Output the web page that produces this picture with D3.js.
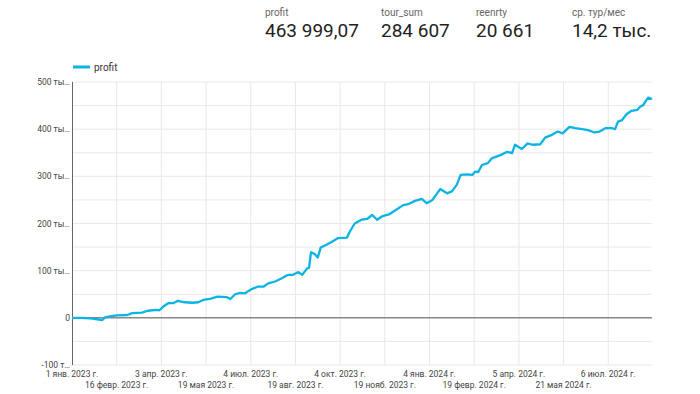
<!DOCTYPE html>
<html lang="ru">
<head>
<meta charset="UTF-8">
<title>profit</title>
<script src="https://cdn.jsdelivr.net/npm/d3@7"></script>
<style>
  body { margin: 0; background: #fff; font-family: Roboto, "Noto Sans", sans-serif; }
  svg text { font-family: Roboto, "Noto Sans", sans-serif; }
</style>
</head>
<body>
<svg id="chart" width="700" height="394"></svg>
<script>
// KPI header
var kpiLabels = ["profit", "tour_sum", "reenrty", "ср. тур/мес"];
var kpiValues = ["463 999,07", "284 607", "20 661", "14,2 тыс."];

// series: days since 1 Jan 2023 and profit (thousands)
var startDate = new Date(2023, 0, 1);
var endDay = 597;
var days = [0, 8, 19, 26, 31, 34, 39, 46, 57, 62, 72, 78, 87, 90, 94, 99, 104, 109, 116, 124,
  130, 135, 142, 150, 159, 163, 168, 173, 178, 185, 191, 197, 202, 209, 216, 222, 227, 233, 237, 242,
  244, 246, 250, 253, 256, 262, 268, 274, 283, 286, 291, 298, 304, 309, 314, 319, 327, 332, 341, 346,
  353, 360, 365, 371, 379, 386, 391, 396, 400, 407, 412, 415, 418, 422, 428, 432, 441, 448, 453, 456,
  463, 469, 474, 482, 487, 494, 500, 505, 512, 518, 525, 531, 538, 543, 549, 556, 559, 562, 566, 571,
  576, 582, 585, 588, 590, 593, 597];
var profit = [0, 0, -1, -3, -5, 1, 3, 5, 6, 10, 11, 15, 17, 16, 24, 31, 31, 36, 33, 32,
  33, 38, 40, 45, 44, 40, 50, 53, 52, 61, 66, 66, 73, 77, 84, 91, 91, 97, 91, 105,
  106, 139, 135, 128, 149, 155, 162, 169, 170, 183, 200, 208, 210, 218, 208, 215, 220, 227, 239, 241,
  248, 252, 243, 250, 273, 264, 268, 282, 303, 304, 303, 310, 309, 324, 328, 338, 345, 352, 349, 367,
  358, 370, 367, 368, 382, 388, 395, 391, 405, 402, 400, 398, 393, 395, 402, 402, 400, 416, 419, 432,
  439, 441, 448, 451, 458, 467, 464];

var yTicks = [-100, 0, 100, 200, 300, 400, 500];
var yTickLabels = ["-100 т…", "0", "100 ты…", "200 ты…", "300 ты…", "400 ты…", "500 ты…"];
var xTickStep = 46; // days between date ticks
var monthNames = ["янв.", "февр.", "мар.", "апр.", "мая", "июн.", "июл.", "авг.", "сент.", "окт.", "нояб.", "дек."];

var lineColor = "#0bb4e3";
var svg = d3.select("#chart");

// header
var kpiX = [265, 381, 476, 572];
kpiLabels.forEach(function (l, i) {
  svg.append("text").attr("x", kpiX[i]).attr("y", 16).attr("font-size", 10).attr("fill", "#666").text(l);
  svg.append("text").attr("x", kpiX[i]).attr("y", 37).attr("font-size", 19).attr("fill", "#222").text(kpiValues[i]);
});

var x = d3.scaleTime()
  .domain([startDate, d3.timeDay.offset(startDate, endDay)])
  .range([72, 652]);
var y = d3.scaleLinear().domain([-100, 500]).range([365, 82]);

var data = days.map(function (d, i) {
  return { date: d3.timeDay.offset(startDate, d), value: profit[i] };
});

// grid
var g = svg.append("g");
d3.range(-100, 501, 50).forEach(function (v) {
  g.append("line").attr("x1", 72).attr("x2", 652).attr("y1", y(v)).attr("y2", y(v))
    .attr("stroke", "#e8e8e8").attr("stroke-width", 1);
});
var xTicks = d3.range(0, endDay, xTickStep).map(function (d) { return d3.timeDay.offset(startDate, d); });
xTicks.forEach(function (t, i) {
  if (i > 0) {
    g.append("line").attr("x1", x(t)).attr("x2", x(t)).attr("y1", 82).attr("y2", 365)
      .attr("stroke", "#e8e8e8").attr("stroke-width", 1);
  }
  svg.append("text")
    .attr("x", x(t)).attr("y", i % 2 === 0 ? 377 : 388)
    .attr("text-anchor", "middle").attr("font-size", 8.5).attr("fill", "#444")
    .text(t.getDate() + " " + monthNames[t.getMonth()] + " " + t.getFullYear() + " г.");
});

// y labels
yTicks.forEach(function (v, i) {
  svg.append("text").attr("x", 70).attr("y", y(v) + 3).attr("text-anchor", "end")
    .attr("font-size", 8.5).attr("fill", "#444").text(yTickLabels[i]);
});

// axis lines
svg.append("line").attr("x1", 72).attr("x2", 652).attr("y1", y(0)).attr("y2", y(0))
  .attr("stroke", "#555").attr("stroke-width", 1);
svg.append("line").attr("x1", 72.5).attr("x2", 72.5).attr("y1", 82).attr("y2", 365)
  .attr("stroke", "#666").attr("stroke-width", 1);

// line
svg.append("path").datum(data)
  .attr("fill", "none").attr("stroke", lineColor).attr("stroke-width", 2.3)
  .attr("stroke-linejoin", "round")
  .attr("d", d3.line().x(function (d) { return x(d.date); }).y(function (d) { return y(d.value); }));

// legend
svg.append("line").attr("x1", 73).attr("x2", 90).attr("y1", 67).attr("y2", 67)
  .attr("stroke", lineColor).attr("stroke-width", 3);
svg.append("text").attr("x", 94).attr("y", 71).attr("font-size", 10).attr("fill", "#333").text("profit");
</script>
</body>
</html>
